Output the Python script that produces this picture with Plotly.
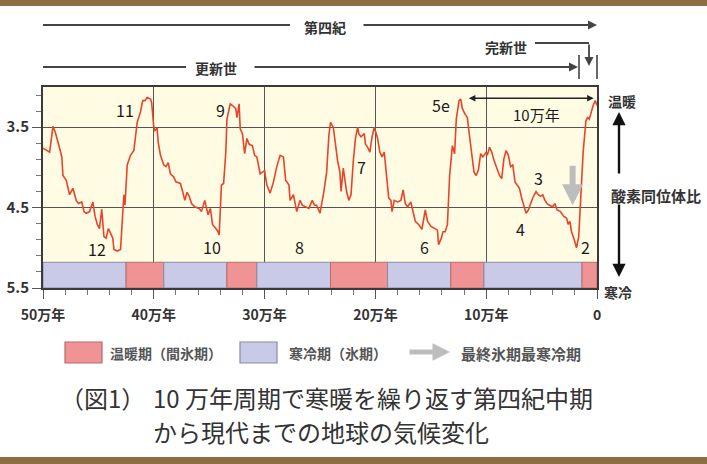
import plotly.graph_objects as go

# ---------------- data ----------------
# age in 10^4 years (万年), oxygen isotope ratio value (axis reversed: small = warm)
ages_a = [50.0, 49.6, 49.4, 49.1, 48.9, 48.6, 48.3, 48.2, 47.9, 47.6, 47.3, 47.0, 46.8, 46.5, 46.3, 46.1,
          45.8, 45.5, 45.3, 45.1, 44.9, 44.7, 44.5, 44.3, 44.1, 43.9, 43.7, 43.6, 43.3, 43.0, 42.9, 42.7,
          42.6, 42.4, 42.3, 42.1, 41.8, 41.5, 41.2, 41.0, 40.8, 40.6, 40.3, 40.2, 40.0, 39.9, 39.7, 39.6,
          39.4, 39.1, 38.9, 38.7, 38.5, 38.2, 38.0, 37.6]
vals_a = [3.76, 3.79, 3.81, 3.49, 3.56, 3.71, 3.87, 4.10, 4.16, 4.34, 4.26, 4.41, 4.45, 4.43, 4.55, 4.57,
          4.55, 4.43, 4.61, 4.71, 4.76, 4.52, 4.86, 4.88, 4.76, 4.82, 4.88, 5.02, 5.04, 5.02, 4.80, 4.34,
          4.47, 3.97, 3.93, 3.85, 3.79, 3.44, 3.31, 3.17, 3.17, 3.13, 3.15, 3.19, 3.50, 3.54, 3.51, 3.69,
          3.85, 3.97, 3.99, 3.94, 4.08, 4.12, 4.18, 4.20]

ages_b = [37.4, 37.2, 37.0, 36.8, 36.6, 36.3, 35.9, 35.7, 35.4, 35.1, 34.9, 34.7, 34.4, 34.2, 34.1, 33.9,
          33.7, 33.5, 33.4, 33.1, 32.9, 32.6, 32.5, 32.3, 32.2, 32.0, 31.8, 31.6, 31.4, 31.1, 30.9, 30.7,
          30.4, 30.2, 30.0, 29.8, 29.5, 29.2, 28.9, 28.6, 28.3, 28.1, 27.8, 27.7, 27.4, 27.1, 26.8, 26.6,
          26.3, 26.0, 25.7, 25.5, 25.3, 25.0]
vals_b = [4.30, 4.41, 4.31, 4.36, 4.45, 4.49, 4.51, 4.55, 4.41, 4.59, 4.51, 4.71, 4.76, 4.80, 4.84, 4.22,
          4.20, 3.81, 3.40, 3.21, 3.23, 3.27, 3.38, 3.21, 3.52, 3.58, 3.83, 3.64, 3.71, 3.73, 3.85, 3.87,
          4.08, 4.06, 4.04, 4.22, 4.32, 4.18, 3.99, 3.85, 3.87, 4.16, 4.22, 4.41, 4.34, 4.55, 4.41, 4.47,
          4.49, 4.51, 4.41, 4.47, 4.47, 4.57]

ages_c = [24.65, 24.4, 24.2, 24.05, 23.8, 23.6, 23.4, 23.2, 23.1, 22.9, 22.8, 22.6, 22.4, 22.2, 22.0, 21.8,
          21.6, 21.5, 21.3, 21.0, 20.9, 20.7, 20.5, 20.3, 20.1, 19.8, 19.6, 19.4, 19.2, 19.0, 18.8, 18.6,
          18.5, 18.3, 18.0, 17.7, 17.5, 17.3, 17.1, 16.8, 16.6, 16.4, 16.1, 15.8, 15.5, 15.3, 15.0, 14.7,
          14.4, 14.3, 14.05, 13.9, 13.7, 13.5, 13.3, 13.05, 12.85, 12.7]
vals_c = [4.30, 4.06, 3.60, 3.44, 3.50, 3.71, 3.93, 4.06, 4.30, 4.01, 4.10, 4.30, 4.41, 4.34, 3.93, 3.64,
          3.50, 3.58, 3.62, 3.58, 3.71, 3.75, 3.81, 3.62, 3.50, 3.64, 3.81, 3.87, 3.81, 4.06, 4.38, 4.41,
          4.55, 4.41, 4.43, 4.41, 4.28, 4.45, 4.49, 4.43, 4.57, 4.67, 4.71, 4.77, 4.53, 4.67, 4.73, 4.76,
          4.78, 4.96, 4.88, 4.80, 4.80, 4.71, 4.10, 3.73, 3.83, 3.40]

ages_d = [12.45, 12.3, 12.15, 11.9, 11.7, 11.55, 11.4, 11.25, 11.1, 10.9, 10.7, 10.5, 10.3, 10.0, 9.9, 9.7,
          9.5, 9.3, 9.1, 8.8, 8.6, 8.4, 8.2, 8.0, 7.8, 7.6, 7.4, 7.2, 7.0, 6.8, 6.6, 6.4, 6.2, 6.0, 5.8,
          5.5, 5.3, 5.1, 4.9, 4.7, 4.5, 4.3, 4.0, 3.8, 3.6, 3.3, 3.0, 2.75, 2.6, 2.45, 2.3, 2.05, 1.85,
          1.65, 1.45, 1.25, 1.0, 0.85, 0.7, 0.55, 0.35, 0.15, 0.0]
vals_d = [3.17, 3.15, 3.27, 3.34, 3.38, 3.56, 3.73, 3.93, 4.06, 4.10, 4.03, 3.83, 3.87, 3.81, 3.85, 3.75,
          3.81, 3.91, 3.99, 4.10, 4.14, 3.89, 3.79, 3.85, 3.99, 3.97, 4.18, 4.22, 4.26, 4.38, 4.49, 4.57,
          4.53, 4.45, 4.38, 4.30, 4.34, 4.36, 4.34, 4.41, 4.45, 4.47, 4.49, 4.45, 4.53, 4.55, 4.61, 4.63,
          4.71, 4.67, 4.80, 4.90, 5.00, 4.86, 4.38, 3.81, 3.42, 3.38, 3.40, 3.31, 3.23, 3.17, 3.23]

# warm / cold period boundaries (万年)
period_edges = [50, 42.5, 39.1, 33.4, 30.7, 24.05, 18.9, 13.2, 10.2, 1.35, 0]
period_kind = ["cold", "warm", "cold", "warm", "cold", "warm", "cold", "warm", "cold", "warm"]

# stage labels: (text, age, value)
stage_text = ["11", "12", "9", "10", "8", "7", "6", "5e", "4", "3", "2"]
stage_age = [42.6, 45.1, 34.0, 34.75, 26.85, 21.3, 15.6, 14.1, 6.9, 5.3, 1.0]
stage_val = [3.29, 5.01, 3.29, 4.99, 4.99, 3.99, 4.99, 3.22, 4.76, 4.13, 4.99]

x_tickvals = [50, 40, 30, 20, 10, 0]
x_ticktext = ["50万年", "40万年", "30万年", "20万年", "10万年", "0"]
y_tickvals = [3.5, 4.5, 5.5]
y_ticktext = ["3.5", "4.5", "5.5"]

# ---------------- figure ----------------
FONT = "Noto Sans CJK JP, Noto Sans, sans-serif"
W, H = 707, 464
L, R, T, B = 43, 110, 87, 176
PW, PH = W - L - R, H - T - B


def PX(px):
    return (px - L) / PW


def PY(py):
    return (H - B - py) / PH


def label(px, py, text, size, color="#333", weight=700, xanchor="center"):
    return dict(x=PX(px), y=PY(py), xref="paper", yref="paper", text=text, showarrow=False,
                xanchor=xanchor, yanchor="middle",
                font=dict(family=FONT, size=size, color=color, weight=weight))


def parrow(px, py, dx, dy, width, color, size=1.0):
    # arrow with tip at (px, py); tail offset (dx, dy) in pixels
    return dict(x=PX(px), y=PY(py), xref="paper", yref="paper", ax=dx, ay=dy,
                axref="pixel", ayref="pixel", text="", showarrow=True, arrowhead=2,
                arrowsize=size, arrowwidth=width, arrowcolor=color, standoff=0, startstandoff=0)


ages = ages_a + ages_b + ages_c + ages_d
vals = vals_a + vals_b + vals_c + vals_d

fig = go.Figure()
fig.add_trace(go.Scatter(x=ages, y=vals, mode="lines",
                         line=dict(color="#E8442C", width=1.6),
                         showlegend=False, hoverinfo="skip"))

shapes = []
annos = []

WARM_FILL, WARM_LINE = "#F09395", "#B86A6A"
COLD_FILL, COLD_LINE = "#C9CAE8", "#8A8AA8"
STRIP_TOP = 5.18

for i, kind in enumerate(period_kind):
    shapes.append(dict(type="rect", xref="x", yref="y",
                       x0=period_edges[i], x1=period_edges[i + 1], y0=STRIP_TOP, y1=5.5,
                       fillcolor=WARM_FILL if kind == "warm" else COLD_FILL,
                       line=dict(color=WARM_LINE if kind == "warm" else COLD_LINE, width=1),
                       layer="above"))

for t, a, v in zip(stage_text, stage_age, stage_val):
    annos.append(dict(x=a, y=v, xref="x", yref="y", text=t, showarrow=False,
                      xanchor="center", yanchor="middle",
                      font=dict(family=FONT, size=16, color="#1a1a1a")))

# 10万年 double arrow
annos.append(dict(x=0.3, y=3.14, xref="x", yref="y", ax=11.7, ay=3.14, axref="x", ayref="y",
                  text="", showarrow=True, arrowhead=2, arrowside="end+start", arrowsize=1,
                  arrowwidth=1.3, arrowcolor="#222"))
annos.append(dict(x=5.5, y=3.34, xref="x", yref="y", text="10万年", showarrow=False,
                  xanchor="center", yanchor="middle",
                  font=dict(family=FONT, size=15, color="#1a1a1a")))
# last glacial maximum arrow
annos.append(dict(x=2.2, y=4.47, xref="x", yref="y", ax=2.2, ay=3.96, axref="x", ayref="y",
                  text="", showarrow=True, arrowhead=2, arrowsize=0.7, arrowwidth=6,
                  arrowcolor="#BDBDBD"))

LINE = "#444"
# top brackets
shapes.append(dict(type="line", xref="paper", yref="paper", x0=PX(43), x1=PX(290),
                   y0=PY(25), y1=PY(25), line=dict(color=LINE, width=1.8)))
annos.append(parrow(597, 25, -(597 - 362), 0, 1.8, LINE))
annos.append(label(325, 27, "第四紀", 14))

annos.append(label(506, 47, "完新世", 14))
shapes.append(dict(type="line", xref="paper", yref="paper", x0=PX(535), x1=PX(589),
                   y0=PY(43), y1=PY(43), line=dict(color=LINE, width=1.8)))
annos.append(parrow(589, 66, 0, -23, 1.8, LINE))

annos.append(label(216, 68, "更新世", 14))
shapes.append(dict(type="line", xref="paper", yref="paper", x0=PX(43), x1=PX(186),
                   y0=PY(67), y1=PY(67), line=dict(color=LINE, width=1.8)))
annos.append(parrow(578, 67, -(578 - 253), 0, 1.8, LINE))
for xb in (579, 597):
    shapes.append(dict(type="line", xref="paper", yref="paper", x0=PX(xb), x1=PX(xb),
                       y0=PY(55), y1=PY(79), line=dict(color=LINE, width=1.6)))

# right side labels
annos.append(label(622, 101, "温暖", 14))
annos.append(parrow(619, 112, 0, 63, 2.4, "#111", 1.1))
annos.append(label(656, 195, "酸素同位体比", 15))
annos.append(parrow(619, 277, 0, -74, 2.4, "#111", 1.1))
annos.append(label(618, 292, "寒冷", 14))

# legend
shapes.append(dict(type="rect", xref="paper", yref="paper", x0=PX(65), x1=PX(102), y0=PY(363), y1=PY(342),
                   fillcolor=WARM_FILL, line=dict(color=WARM_LINE, width=1.2)))
annos.append(label(108, 353, "温暖期（間氷期）", 14, "#555", 700, "left"))
shapes.append(dict(type="rect", xref="paper", yref="paper", x0=PX(240), x1=PX(277), y0=PY(363), y1=PY(342),
                   fillcolor=COLD_FILL, line=dict(color=COLD_LINE, width=1.2)))
annos.append(label(287, 353, "寒冷期（氷期）", 14, "#555", 700, "left"))
annos.append(parrow(450, 352, -42, 0, 5, "#BDBDBD", 0.7))
annos.append(label(459, 353, "最終氷期最寒冷期", 15, "#555", 700, "left"))

# caption
annos.append(label(58, 397, "（図1）", 24, "#333", 400, "left"))
annos.append(label(151, 397, "10 万年周期で寒暖を繰り返す第四紀中期", 24, "#333", 400, "left"))
annos.append(label(151, 432, "から現代までの地球の気候変化", 24, "#333", 400, "left"))

# brown decorative bands
for y0, y1 in ((0, 6), (457, 464)):
    shapes.append(dict(type="rect", xref="paper", yref="paper", x0=PX(0), x1=PX(W),
                       y0=PY(y1), y1=PY(y0), fillcolor="#8C6E45", line=dict(width=0)))

fig.update_layout(
    width=W, height=H, margin=dict(l=L, r=R, t=T, b=B, autoexpand=False),
    paper_bgcolor="white", plot_bgcolor="#FFFCE3",
    shapes=shapes, annotations=annos, showlegend=False,
    font=dict(family=FONT, color="#333"),
)
fig.update_xaxes(range=[50, 0], tickmode="array", tickvals=x_tickvals, ticktext=x_ticktext,
                 ticks="outside", ticklen=9, tickwidth=1.2, tickcolor="#555",
                 minor=dict(dtick=2, tick0=0, ticks="outside", ticklen=5, tickwidth=1, tickcolor="#777"),
                 showgrid=True, gridcolor="#555", gridwidth=1.2, zeroline=False,
                 showline=True, linecolor="#3a3a3a", linewidth=2, mirror=True,
                 ticklabelstandoff=4,
                 tickfont=dict(family=FONT, size=14, color="#333", weight=700))
fig.update_yaxes(range=[5.5, 3.0], tickmode="array", tickvals=y_tickvals, ticktext=y_ticktext,
                 ticks="outside", ticklen=9, tickwidth=1.2, tickcolor="#555",
                 minor=dict(tick0=3.1, dtick=0.2, ticks="outside", ticklen=5, tickwidth=1, tickcolor="#777"),
                 showgrid=True, gridcolor="#555", gridwidth=1.2, zeroline=False,
                 showline=True, linecolor="#3a3a3a", linewidth=2, mirror=True,
                 tickfont=dict(family=FONT, size=15, color="#333", weight=700))

fig.write_html("out.html", config={"displayModeBar": False},
               post_script="document.body.style.margin='0';document.body.style.overflow='hidden';")
